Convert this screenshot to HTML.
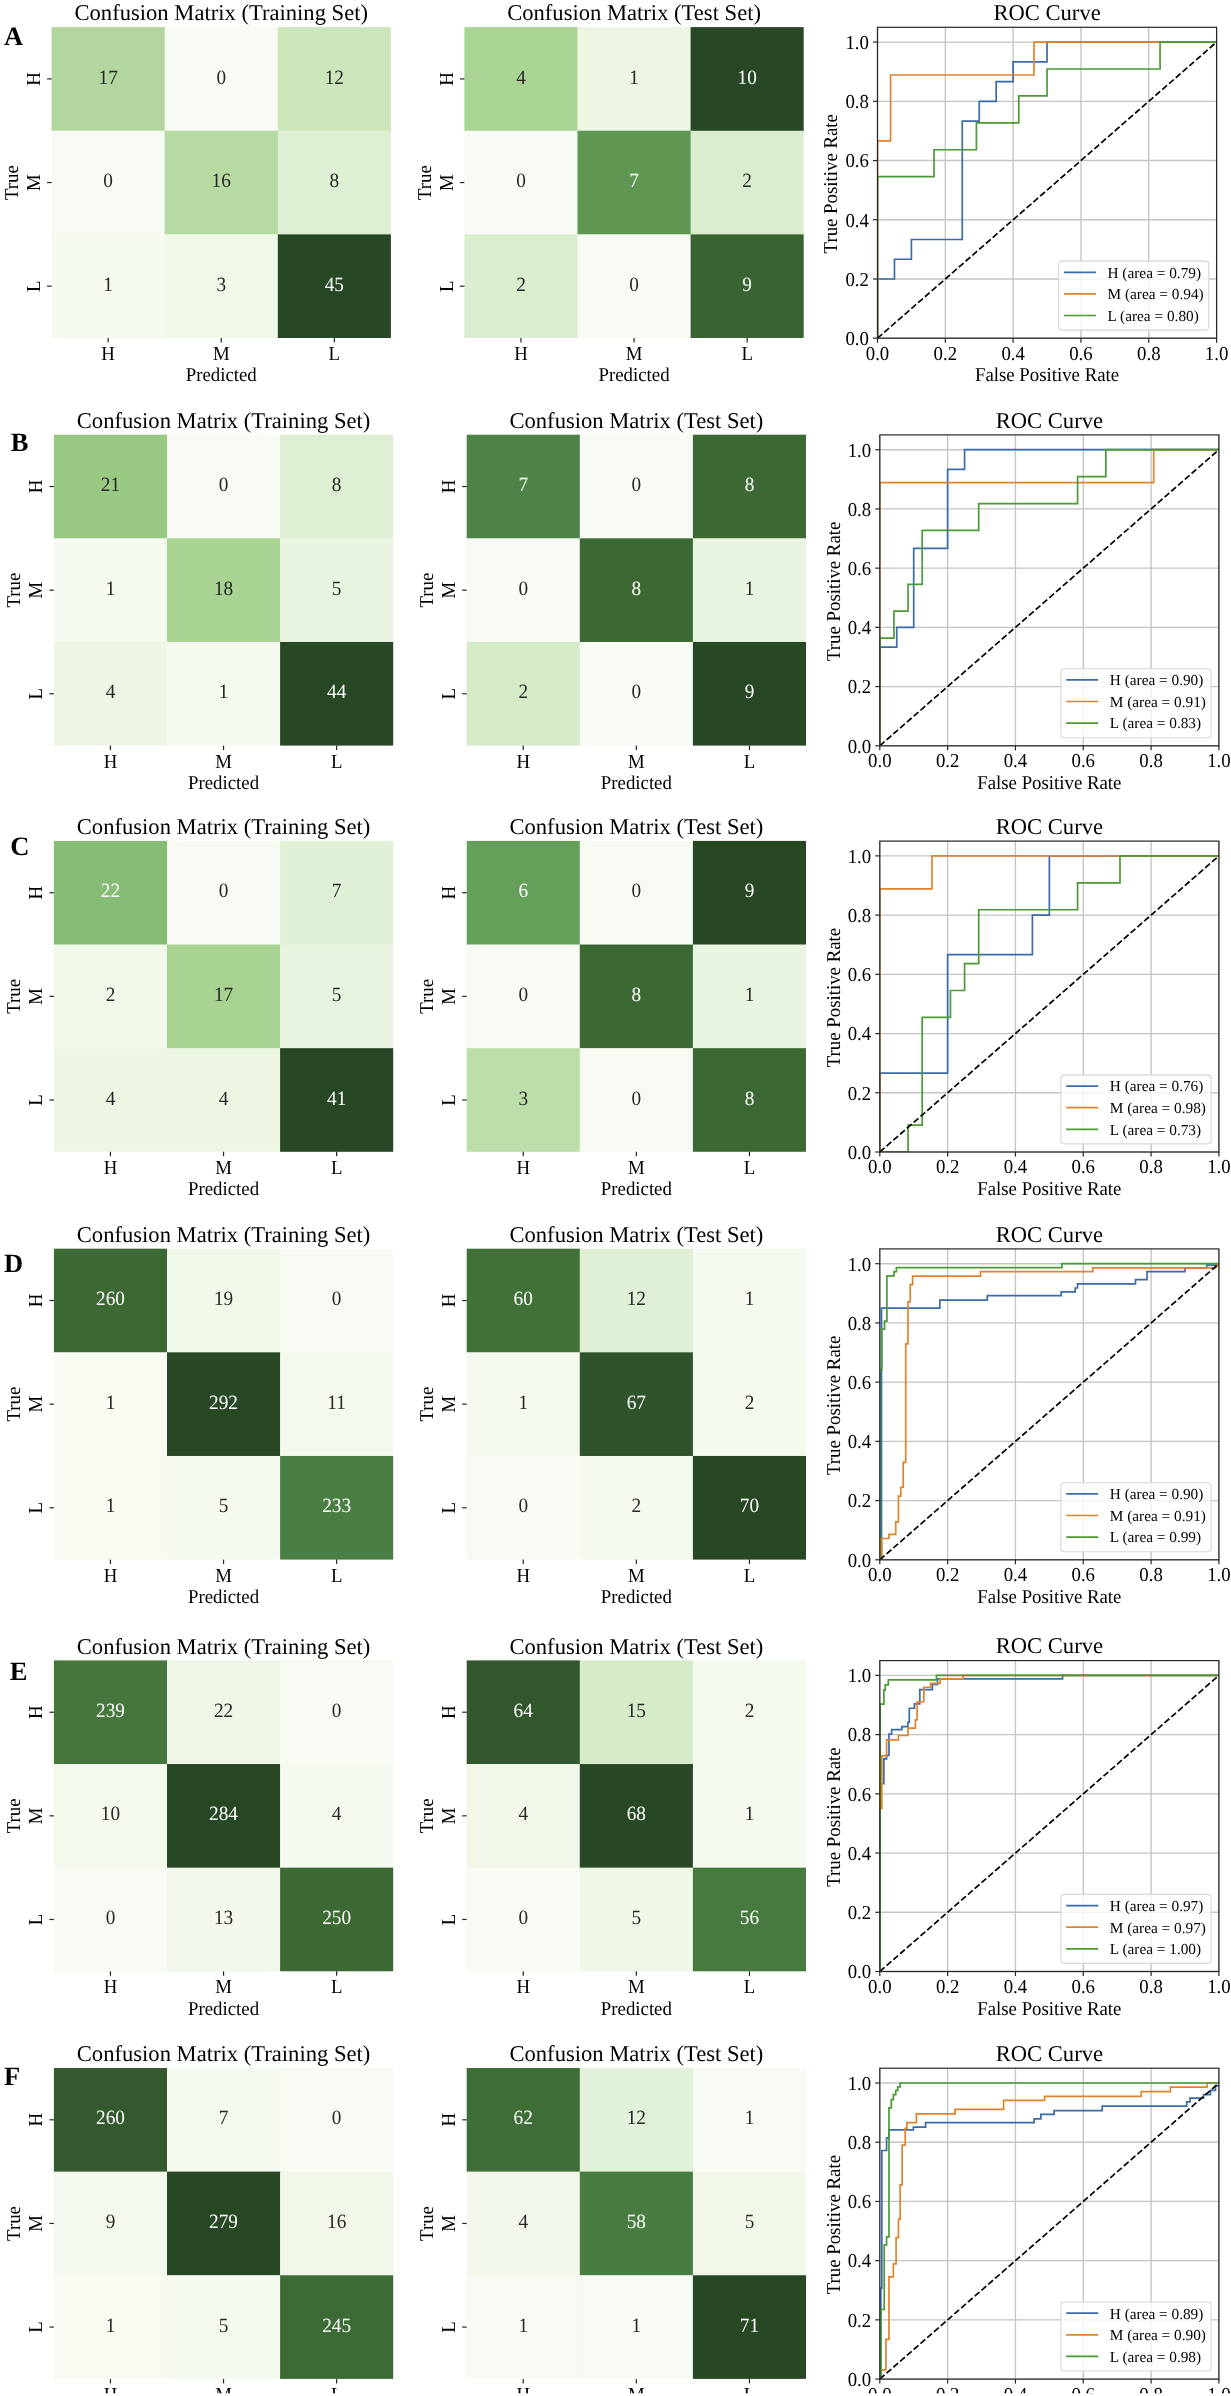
<!DOCTYPE html>
<html><head><meta charset="utf-8"><style>
html,body{margin:0;padding:0;background:#fff;}
body{width:1231px;height:2396px;overflow:hidden;}
svg{display:block;filter:blur(0.35px);}
text{font-family:"Liberation Serif", serif;text-rendering:geometricPrecision;}
</style></head><body>
<svg width="1231" height="2396" viewBox="0 0 1231 2396" font-family="'Liberation Serif', serif">
<rect width="1231" height="2396" fill="#fff"/>
<text transform="translate(4.00,45.00)" font-size="26.5" text-anchor="start" fill="#000" font-weight="bold">A</text>
<rect x="51.60" y="27.10" width="113.50" height="104.03" fill="#b2d69e"/>
<rect x="164.70" y="27.10" width="113.50" height="104.03" fill="#f7fbf3"/>
<rect x="277.80" y="27.10" width="113.10" height="104.03" fill="#cce6bb"/>
<rect x="51.60" y="130.73" width="113.50" height="104.03" fill="#f7fbf3"/>
<rect x="164.70" y="130.73" width="113.50" height="104.03" fill="#b7daa3"/>
<rect x="277.80" y="130.73" width="113.10" height="104.03" fill="#dfefd4"/>
<rect x="51.60" y="234.37" width="113.50" height="103.63" fill="#f5faef"/>
<rect x="164.70" y="234.37" width="113.50" height="103.63" fill="#f0f8e8"/>
<rect x="277.80" y="234.37" width="113.10" height="103.63" fill="#284725"/>
<text transform="translate(108.15,83.52) scale(0.950,1)" font-size="20.3" text-anchor="middle" fill="#262626">17</text>
<text transform="translate(221.25,83.52) scale(0.950,1)" font-size="20.3" text-anchor="middle" fill="#262626">0</text>
<text transform="translate(334.35,83.52) scale(0.950,1)" font-size="20.3" text-anchor="middle" fill="#262626">12</text>
<text transform="translate(108.15,187.15) scale(0.950,1)" font-size="20.3" text-anchor="middle" fill="#262626">0</text>
<text transform="translate(221.25,187.15) scale(0.950,1)" font-size="20.3" text-anchor="middle" fill="#262626">16</text>
<text transform="translate(334.35,187.15) scale(0.950,1)" font-size="20.3" text-anchor="middle" fill="#262626">8</text>
<text transform="translate(108.15,290.78) scale(0.950,1)" font-size="20.3" text-anchor="middle" fill="#262626">1</text>
<text transform="translate(221.25,290.78) scale(0.950,1)" font-size="20.3" text-anchor="middle" fill="#262626">3</text>
<text transform="translate(334.35,290.78) scale(0.950,1)" font-size="20.3" text-anchor="middle" fill="#ffffff">45</text>
<line x1="47.10" y1="78.92" x2="51.60" y2="78.92" stroke="#262626" stroke-width="1.2"/>
<text transform="translate(39.80,78.92) rotate(-90) scale(0.950,1)" font-size="19.8" text-anchor="middle" fill="#000">H</text>
<line x1="108.15" y1="338.00" x2="108.15" y2="342.50" stroke="#262626" stroke-width="1.2"/>
<text transform="translate(108.15,360.00) scale(0.950,1)" font-size="19.8" text-anchor="middle" fill="#000">H</text>
<line x1="47.10" y1="182.55" x2="51.60" y2="182.55" stroke="#262626" stroke-width="1.2"/>
<text transform="translate(39.80,182.55) rotate(-90) scale(0.950,1)" font-size="19.8" text-anchor="middle" fill="#000">M</text>
<line x1="221.25" y1="338.00" x2="221.25" y2="342.50" stroke="#262626" stroke-width="1.2"/>
<text transform="translate(221.25,360.00) scale(0.950,1)" font-size="19.8" text-anchor="middle" fill="#000">M</text>
<line x1="47.10" y1="286.18" x2="51.60" y2="286.18" stroke="#262626" stroke-width="1.2"/>
<text transform="translate(39.80,286.18) rotate(-90) scale(0.950,1)" font-size="19.8" text-anchor="middle" fill="#000">L</text>
<line x1="334.35" y1="338.00" x2="334.35" y2="342.50" stroke="#262626" stroke-width="1.2"/>
<text transform="translate(334.35,360.00) scale(0.950,1)" font-size="19.8" text-anchor="middle" fill="#000">L</text>
<text transform="translate(221.25,381.40) scale(0.960,1)" font-size="19.6" text-anchor="middle" fill="#000">Predicted</text>
<text transform="translate(18.10,182.55) rotate(-90) scale(0.960,1)" font-size="19.6" text-anchor="middle" fill="#000">True</text>
<text transform="translate(221.25,20.20)" font-size="22.6" text-anchor="middle" fill="#000">Confusion Matrix (Training Set)</text>
<rect x="464.40" y="27.10" width="113.50" height="104.03" fill="#aad494"/>
<rect x="577.50" y="27.10" width="113.50" height="104.03" fill="#ecf6e3"/>
<rect x="690.60" y="27.10" width="113.10" height="104.03" fill="#284725"/>
<rect x="464.40" y="130.73" width="113.50" height="104.03" fill="#f7fbf3"/>
<rect x="577.50" y="130.73" width="113.50" height="104.03" fill="#5e9652"/>
<rect x="690.60" y="130.73" width="113.10" height="104.03" fill="#daedce"/>
<rect x="464.40" y="234.37" width="113.50" height="103.63" fill="#daedce"/>
<rect x="577.50" y="234.37" width="113.50" height="103.63" fill="#f7fbf3"/>
<rect x="690.60" y="234.37" width="113.10" height="103.63" fill="#396432"/>
<text transform="translate(520.95,83.52) scale(0.950,1)" font-size="20.3" text-anchor="middle" fill="#262626">4</text>
<text transform="translate(634.05,83.52) scale(0.950,1)" font-size="20.3" text-anchor="middle" fill="#262626">1</text>
<text transform="translate(747.15,83.52) scale(0.950,1)" font-size="20.3" text-anchor="middle" fill="#ffffff">10</text>
<text transform="translate(520.95,187.15) scale(0.950,1)" font-size="20.3" text-anchor="middle" fill="#262626">0</text>
<text transform="translate(634.05,187.15) scale(0.950,1)" font-size="20.3" text-anchor="middle" fill="#ffffff">7</text>
<text transform="translate(747.15,187.15) scale(0.950,1)" font-size="20.3" text-anchor="middle" fill="#262626">2</text>
<text transform="translate(520.95,290.78) scale(0.950,1)" font-size="20.3" text-anchor="middle" fill="#262626">2</text>
<text transform="translate(634.05,290.78) scale(0.950,1)" font-size="20.3" text-anchor="middle" fill="#262626">0</text>
<text transform="translate(747.15,290.78) scale(0.950,1)" font-size="20.3" text-anchor="middle" fill="#ffffff">9</text>
<line x1="459.90" y1="78.92" x2="464.40" y2="78.92" stroke="#262626" stroke-width="1.2"/>
<text transform="translate(452.60,78.92) rotate(-90) scale(0.950,1)" font-size="19.8" text-anchor="middle" fill="#000">H</text>
<line x1="520.95" y1="338.00" x2="520.95" y2="342.50" stroke="#262626" stroke-width="1.2"/>
<text transform="translate(520.95,360.00) scale(0.950,1)" font-size="19.8" text-anchor="middle" fill="#000">H</text>
<line x1="459.90" y1="182.55" x2="464.40" y2="182.55" stroke="#262626" stroke-width="1.2"/>
<text transform="translate(452.60,182.55) rotate(-90) scale(0.950,1)" font-size="19.8" text-anchor="middle" fill="#000">M</text>
<line x1="634.05" y1="338.00" x2="634.05" y2="342.50" stroke="#262626" stroke-width="1.2"/>
<text transform="translate(634.05,360.00) scale(0.950,1)" font-size="19.8" text-anchor="middle" fill="#000">M</text>
<line x1="459.90" y1="286.18" x2="464.40" y2="286.18" stroke="#262626" stroke-width="1.2"/>
<text transform="translate(452.60,286.18) rotate(-90) scale(0.950,1)" font-size="19.8" text-anchor="middle" fill="#000">L</text>
<line x1="747.15" y1="338.00" x2="747.15" y2="342.50" stroke="#262626" stroke-width="1.2"/>
<text transform="translate(747.15,360.00) scale(0.950,1)" font-size="19.8" text-anchor="middle" fill="#000">L</text>
<text transform="translate(634.05,381.40) scale(0.960,1)" font-size="19.6" text-anchor="middle" fill="#000">Predicted</text>
<text transform="translate(430.90,182.55) rotate(-90) scale(0.960,1)" font-size="19.6" text-anchor="middle" fill="#000">True</text>
<text transform="translate(634.05,20.20)" font-size="22.6" text-anchor="middle" fill="#000">Confusion Matrix (Test Set)</text>
<path d="M877.50 27.29V338.20 M877.50 338.20H1216.60 M945.32 27.29V338.20 M877.50 278.98H1216.60 M1013.14 27.29V338.20 M877.50 219.76H1216.60 M1080.96 27.29V338.20 M877.50 160.54H1216.60 M1148.78 27.29V338.20 M877.50 101.32H1216.60 M1216.60 27.29V338.20 M877.50 42.10H1216.60" stroke="#c4c4c4" stroke-width="1.35" fill="none"/>
<clipPath id="clipA"><rect x="877.50" y="27.29" width="339.10" height="310.91"/></clipPath>
<g clip-path="url(#clipA)">
<path d="M877.50 338.20 L877.50 278.98 L894.46 278.98 L894.46 259.23 L911.41 259.23 L911.41 239.51 L962.27 239.51 L962.27 121.07 L979.23 121.07 L979.23 101.32 L996.18 101.32 L996.18 81.57 L1013.14 81.57 L1013.14 61.85 L1047.05 61.85 L1047.05 42.10 L1216.60 42.10" stroke="#3b6ba8" stroke-width="1.7" fill="none" stroke-linejoin="miter"/>
<path d="M877.50 338.20 L877.50 140.79 L890.56 140.79 L890.56 75.00 L1033.99 75.00 L1033.99 42.10 L1216.60 42.10" stroke="#e0832d" stroke-width="1.7" fill="none" stroke-linejoin="miter"/>
<path d="M877.50 338.20 L877.50 176.68 L934.03 176.68 L934.03 149.76 L976.42 149.76 L976.42 122.85 L1018.80 122.85 L1018.80 95.93 L1047.05 95.93 L1047.05 69.02 L1160.07 69.02 L1160.07 42.10 L1216.60 42.10" stroke="#4b9a36" stroke-width="1.7" fill="none" stroke-linejoin="miter"/>
<path d="M877.50 338.20L1216.60 42.10" stroke="#000" stroke-width="1.7" stroke-dasharray="6.28,2.72" fill="none"/>
</g>
<rect x="877.50" y="27.29" width="339.10" height="310.91" fill="none" stroke="#262626" stroke-width="1.2"/>
<line x1="877.50" y1="338.20" x2="877.50" y2="342.70" stroke="#262626" stroke-width="1.2"/>
<text transform="translate(877.50,359.60) scale(0.950,1)" font-size="19.8" text-anchor="middle" fill="#000">0.0</text>
<line x1="873.00" y1="338.20" x2="877.50" y2="338.20" stroke="#262626" stroke-width="1.2"/>
<text transform="translate(868.90,345.00) scale(0.950,1)" font-size="19.8" text-anchor="end" fill="#000">0.0</text>
<line x1="945.32" y1="338.20" x2="945.32" y2="342.70" stroke="#262626" stroke-width="1.2"/>
<text transform="translate(945.32,359.60) scale(0.950,1)" font-size="19.8" text-anchor="middle" fill="#000">0.2</text>
<line x1="873.00" y1="278.98" x2="877.50" y2="278.98" stroke="#262626" stroke-width="1.2"/>
<text transform="translate(868.90,285.78) scale(0.950,1)" font-size="19.8" text-anchor="end" fill="#000">0.2</text>
<line x1="1013.14" y1="338.20" x2="1013.14" y2="342.70" stroke="#262626" stroke-width="1.2"/>
<text transform="translate(1013.14,359.60) scale(0.950,1)" font-size="19.8" text-anchor="middle" fill="#000">0.4</text>
<line x1="873.00" y1="219.76" x2="877.50" y2="219.76" stroke="#262626" stroke-width="1.2"/>
<text transform="translate(868.90,226.56) scale(0.950,1)" font-size="19.8" text-anchor="end" fill="#000">0.4</text>
<line x1="1080.96" y1="338.20" x2="1080.96" y2="342.70" stroke="#262626" stroke-width="1.2"/>
<text transform="translate(1080.96,359.60) scale(0.950,1)" font-size="19.8" text-anchor="middle" fill="#000">0.6</text>
<line x1="873.00" y1="160.54" x2="877.50" y2="160.54" stroke="#262626" stroke-width="1.2"/>
<text transform="translate(868.90,167.34) scale(0.950,1)" font-size="19.8" text-anchor="end" fill="#000">0.6</text>
<line x1="1148.78" y1="338.20" x2="1148.78" y2="342.70" stroke="#262626" stroke-width="1.2"/>
<text transform="translate(1148.78,359.60) scale(0.950,1)" font-size="19.8" text-anchor="middle" fill="#000">0.8</text>
<line x1="873.00" y1="101.32" x2="877.50" y2="101.32" stroke="#262626" stroke-width="1.2"/>
<text transform="translate(868.90,108.12) scale(0.950,1)" font-size="19.8" text-anchor="end" fill="#000">0.8</text>
<line x1="1216.60" y1="338.20" x2="1216.60" y2="342.70" stroke="#262626" stroke-width="1.2"/>
<text transform="translate(1216.60,359.60) scale(0.950,1)" font-size="19.8" text-anchor="middle" fill="#000">1.0</text>
<line x1="873.00" y1="42.10" x2="877.50" y2="42.10" stroke="#262626" stroke-width="1.2"/>
<text transform="translate(868.90,48.90) scale(0.950,1)" font-size="19.8" text-anchor="end" fill="#000">1.0</text>
<text transform="translate(1047.05,20.00)" font-size="22.6" text-anchor="middle" fill="#000">ROC Curve</text>
<text transform="translate(1047.05,381.30) scale(0.960,1)" font-size="19.6" text-anchor="middle" fill="#000">False Positive Rate</text>
<text transform="translate(837.40,183.75) rotate(-90) scale(0.960,1)" font-size="19.6" text-anchor="middle" fill="#000">True Positive Rate</text>
<rect x="1058.60" y="261.10" width="150.20" height="69.00" rx="3.5" fill="#fff" fill-opacity="0.8" stroke="#d6d6d6" stroke-width="1.1"/>
<line x1="1063.90" y1="272.30" x2="1095.90" y2="272.30" stroke="#3b6ba8" stroke-width="1.7"/>
<text transform="translate(1107.50,277.60)" font-size="15.3" text-anchor="start" fill="#000">H (area = 0.79)</text>
<line x1="1063.90" y1="293.90" x2="1095.90" y2="293.90" stroke="#e0832d" stroke-width="1.7"/>
<text transform="translate(1107.50,299.20)" font-size="15.3" text-anchor="start" fill="#000">M (area = 0.94)</text>
<line x1="1063.90" y1="315.50" x2="1095.90" y2="315.50" stroke="#4b9a36" stroke-width="1.7"/>
<text transform="translate(1107.50,320.80)" font-size="15.3" text-anchor="start" fill="#000">L (area = 0.80)</text>
<text transform="translate(10.70,451.35)" font-size="26.5" text-anchor="start" fill="#000" font-weight="bold">B</text>
<rect x="53.90" y="434.70" width="113.50" height="104.03" fill="#98c882"/>
<rect x="167.00" y="434.70" width="113.50" height="104.03" fill="#f7fbf3"/>
<rect x="280.10" y="434.70" width="113.10" height="104.03" fill="#deefd3"/>
<rect x="53.90" y="538.33" width="113.50" height="104.03" fill="#f4faef"/>
<rect x="167.00" y="538.33" width="113.50" height="104.03" fill="#a8d392"/>
<rect x="280.10" y="538.33" width="113.10" height="104.03" fill="#eaf5e1"/>
<rect x="53.90" y="641.97" width="113.50" height="103.63" fill="#edf6e4"/>
<rect x="167.00" y="641.97" width="113.50" height="103.63" fill="#f4faef"/>
<rect x="280.10" y="641.97" width="113.10" height="103.63" fill="#284725"/>
<text transform="translate(110.45,491.12) scale(0.950,1)" font-size="20.3" text-anchor="middle" fill="#262626">21</text>
<text transform="translate(223.55,491.12) scale(0.950,1)" font-size="20.3" text-anchor="middle" fill="#262626">0</text>
<text transform="translate(336.65,491.12) scale(0.950,1)" font-size="20.3" text-anchor="middle" fill="#262626">8</text>
<text transform="translate(110.45,594.75) scale(0.950,1)" font-size="20.3" text-anchor="middle" fill="#262626">1</text>
<text transform="translate(223.55,594.75) scale(0.950,1)" font-size="20.3" text-anchor="middle" fill="#262626">18</text>
<text transform="translate(336.65,594.75) scale(0.950,1)" font-size="20.3" text-anchor="middle" fill="#262626">5</text>
<text transform="translate(110.45,698.38) scale(0.950,1)" font-size="20.3" text-anchor="middle" fill="#262626">4</text>
<text transform="translate(223.55,698.38) scale(0.950,1)" font-size="20.3" text-anchor="middle" fill="#262626">1</text>
<text transform="translate(336.65,698.38) scale(0.950,1)" font-size="20.3" text-anchor="middle" fill="#ffffff">44</text>
<line x1="49.40" y1="486.52" x2="53.90" y2="486.52" stroke="#262626" stroke-width="1.2"/>
<text transform="translate(42.10,486.52) rotate(-90) scale(0.950,1)" font-size="19.8" text-anchor="middle" fill="#000">H</text>
<line x1="110.45" y1="745.60" x2="110.45" y2="750.10" stroke="#262626" stroke-width="1.2"/>
<text transform="translate(110.45,767.60) scale(0.950,1)" font-size="19.8" text-anchor="middle" fill="#000">H</text>
<line x1="49.40" y1="590.15" x2="53.90" y2="590.15" stroke="#262626" stroke-width="1.2"/>
<text transform="translate(42.10,590.15) rotate(-90) scale(0.950,1)" font-size="19.8" text-anchor="middle" fill="#000">M</text>
<line x1="223.55" y1="745.60" x2="223.55" y2="750.10" stroke="#262626" stroke-width="1.2"/>
<text transform="translate(223.55,767.60) scale(0.950,1)" font-size="19.8" text-anchor="middle" fill="#000">M</text>
<line x1="49.40" y1="693.78" x2="53.90" y2="693.78" stroke="#262626" stroke-width="1.2"/>
<text transform="translate(42.10,693.78) rotate(-90) scale(0.950,1)" font-size="19.8" text-anchor="middle" fill="#000">L</text>
<line x1="336.65" y1="745.60" x2="336.65" y2="750.10" stroke="#262626" stroke-width="1.2"/>
<text transform="translate(336.65,767.60) scale(0.950,1)" font-size="19.8" text-anchor="middle" fill="#000">L</text>
<text transform="translate(223.55,789.00) scale(0.960,1)" font-size="19.6" text-anchor="middle" fill="#000">Predicted</text>
<text transform="translate(20.40,590.15) rotate(-90) scale(0.960,1)" font-size="19.6" text-anchor="middle" fill="#000">True</text>
<text transform="translate(223.55,427.80)" font-size="22.6" text-anchor="middle" fill="#000">Confusion Matrix (Training Set)</text>
<rect x="466.70" y="434.70" width="113.50" height="104.03" fill="#4d8346"/>
<rect x="579.80" y="434.70" width="113.50" height="104.03" fill="#f7fbf3"/>
<rect x="692.90" y="434.70" width="113.10" height="104.03" fill="#3b6833"/>
<rect x="466.70" y="538.33" width="113.50" height="104.03" fill="#f7fbf3"/>
<rect x="579.80" y="538.33" width="113.50" height="104.03" fill="#3b6833"/>
<rect x="692.90" y="538.33" width="113.10" height="104.03" fill="#eaf5e1"/>
<rect x="466.70" y="641.97" width="113.50" height="103.63" fill="#d5ebc8"/>
<rect x="579.80" y="641.97" width="113.50" height="103.63" fill="#f7fbf3"/>
<rect x="692.90" y="641.97" width="113.10" height="103.63" fill="#284725"/>
<text transform="translate(523.25,491.12) scale(0.950,1)" font-size="20.3" text-anchor="middle" fill="#ffffff">7</text>
<text transform="translate(636.35,491.12) scale(0.950,1)" font-size="20.3" text-anchor="middle" fill="#262626">0</text>
<text transform="translate(749.45,491.12) scale(0.950,1)" font-size="20.3" text-anchor="middle" fill="#ffffff">8</text>
<text transform="translate(523.25,594.75) scale(0.950,1)" font-size="20.3" text-anchor="middle" fill="#262626">0</text>
<text transform="translate(636.35,594.75) scale(0.950,1)" font-size="20.3" text-anchor="middle" fill="#ffffff">8</text>
<text transform="translate(749.45,594.75) scale(0.950,1)" font-size="20.3" text-anchor="middle" fill="#262626">1</text>
<text transform="translate(523.25,698.38) scale(0.950,1)" font-size="20.3" text-anchor="middle" fill="#262626">2</text>
<text transform="translate(636.35,698.38) scale(0.950,1)" font-size="20.3" text-anchor="middle" fill="#262626">0</text>
<text transform="translate(749.45,698.38) scale(0.950,1)" font-size="20.3" text-anchor="middle" fill="#ffffff">9</text>
<line x1="462.20" y1="486.52" x2="466.70" y2="486.52" stroke="#262626" stroke-width="1.2"/>
<text transform="translate(454.90,486.52) rotate(-90) scale(0.950,1)" font-size="19.8" text-anchor="middle" fill="#000">H</text>
<line x1="523.25" y1="745.60" x2="523.25" y2="750.10" stroke="#262626" stroke-width="1.2"/>
<text transform="translate(523.25,767.60) scale(0.950,1)" font-size="19.8" text-anchor="middle" fill="#000">H</text>
<line x1="462.20" y1="590.15" x2="466.70" y2="590.15" stroke="#262626" stroke-width="1.2"/>
<text transform="translate(454.90,590.15) rotate(-90) scale(0.950,1)" font-size="19.8" text-anchor="middle" fill="#000">M</text>
<line x1="636.35" y1="745.60" x2="636.35" y2="750.10" stroke="#262626" stroke-width="1.2"/>
<text transform="translate(636.35,767.60) scale(0.950,1)" font-size="19.8" text-anchor="middle" fill="#000">M</text>
<line x1="462.20" y1="693.78" x2="466.70" y2="693.78" stroke="#262626" stroke-width="1.2"/>
<text transform="translate(454.90,693.78) rotate(-90) scale(0.950,1)" font-size="19.8" text-anchor="middle" fill="#000">L</text>
<line x1="749.45" y1="745.60" x2="749.45" y2="750.10" stroke="#262626" stroke-width="1.2"/>
<text transform="translate(749.45,767.60) scale(0.950,1)" font-size="19.8" text-anchor="middle" fill="#000">L</text>
<text transform="translate(636.35,789.00) scale(0.960,1)" font-size="19.6" text-anchor="middle" fill="#000">Predicted</text>
<text transform="translate(433.20,590.15) rotate(-90) scale(0.960,1)" font-size="19.6" text-anchor="middle" fill="#000">True</text>
<text transform="translate(636.35,427.80)" font-size="22.6" text-anchor="middle" fill="#000">Confusion Matrix (Test Set)</text>
<path d="M879.80 434.89V745.80 M879.80 745.80H1218.90 M947.62 434.89V745.80 M879.80 686.58H1218.90 M1015.44 434.89V745.80 M879.80 627.36H1218.90 M1083.26 434.89V745.80 M879.80 568.14H1218.90 M1151.08 434.89V745.80 M879.80 508.92H1218.90 M1218.90 434.89V745.80 M879.80 449.70H1218.90" stroke="#c4c4c4" stroke-width="1.35" fill="none"/>
<clipPath id="clipB"><rect x="879.80" y="434.89" width="339.10" height="310.91"/></clipPath>
<g clip-path="url(#clipB)">
<path d="M879.80 745.80 L879.80 647.11 L896.75 647.11 L896.75 627.36 L913.71 627.36 L913.71 548.39 L947.62 548.39 L947.62 469.45 L964.57 469.45 L964.57 449.70 L1218.90 449.70" stroke="#3b6ba8" stroke-width="1.7" fill="none" stroke-linejoin="miter"/>
<path d="M879.80 745.80 L879.80 482.60 L1153.69 482.60 L1153.69 449.70 L1218.90 449.70" stroke="#e0832d" stroke-width="1.7" fill="none" stroke-linejoin="miter"/>
<path d="M879.80 745.80 L879.80 638.14 L893.94 638.14 L893.94 611.22 L908.05 611.22 L908.05 584.28 L922.19 584.28 L922.19 530.45 L978.72 530.45 L978.72 503.53 L1077.60 503.53 L1077.60 476.62 L1105.88 476.62 L1105.88 449.70 L1218.90 449.70" stroke="#4b9a36" stroke-width="1.7" fill="none" stroke-linejoin="miter"/>
<path d="M879.80 745.80L1218.90 449.70" stroke="#000" stroke-width="1.7" stroke-dasharray="6.28,2.72" fill="none"/>
</g>
<rect x="879.80" y="434.89" width="339.10" height="310.91" fill="none" stroke="#262626" stroke-width="1.2"/>
<line x1="879.80" y1="745.80" x2="879.80" y2="750.30" stroke="#262626" stroke-width="1.2"/>
<text transform="translate(879.80,767.20) scale(0.950,1)" font-size="19.8" text-anchor="middle" fill="#000">0.0</text>
<line x1="875.30" y1="745.80" x2="879.80" y2="745.80" stroke="#262626" stroke-width="1.2"/>
<text transform="translate(871.20,752.60) scale(0.950,1)" font-size="19.8" text-anchor="end" fill="#000">0.0</text>
<line x1="947.62" y1="745.80" x2="947.62" y2="750.30" stroke="#262626" stroke-width="1.2"/>
<text transform="translate(947.62,767.20) scale(0.950,1)" font-size="19.8" text-anchor="middle" fill="#000">0.2</text>
<line x1="875.30" y1="686.58" x2="879.80" y2="686.58" stroke="#262626" stroke-width="1.2"/>
<text transform="translate(871.20,693.38) scale(0.950,1)" font-size="19.8" text-anchor="end" fill="#000">0.2</text>
<line x1="1015.44" y1="745.80" x2="1015.44" y2="750.30" stroke="#262626" stroke-width="1.2"/>
<text transform="translate(1015.44,767.20) scale(0.950,1)" font-size="19.8" text-anchor="middle" fill="#000">0.4</text>
<line x1="875.30" y1="627.36" x2="879.80" y2="627.36" stroke="#262626" stroke-width="1.2"/>
<text transform="translate(871.20,634.16) scale(0.950,1)" font-size="19.8" text-anchor="end" fill="#000">0.4</text>
<line x1="1083.26" y1="745.80" x2="1083.26" y2="750.30" stroke="#262626" stroke-width="1.2"/>
<text transform="translate(1083.26,767.20) scale(0.950,1)" font-size="19.8" text-anchor="middle" fill="#000">0.6</text>
<line x1="875.30" y1="568.14" x2="879.80" y2="568.14" stroke="#262626" stroke-width="1.2"/>
<text transform="translate(871.20,574.94) scale(0.950,1)" font-size="19.8" text-anchor="end" fill="#000">0.6</text>
<line x1="1151.08" y1="745.80" x2="1151.08" y2="750.30" stroke="#262626" stroke-width="1.2"/>
<text transform="translate(1151.08,767.20) scale(0.950,1)" font-size="19.8" text-anchor="middle" fill="#000">0.8</text>
<line x1="875.30" y1="508.92" x2="879.80" y2="508.92" stroke="#262626" stroke-width="1.2"/>
<text transform="translate(871.20,515.72) scale(0.950,1)" font-size="19.8" text-anchor="end" fill="#000">0.8</text>
<line x1="1218.90" y1="745.80" x2="1218.90" y2="750.30" stroke="#262626" stroke-width="1.2"/>
<text transform="translate(1218.90,767.20) scale(0.950,1)" font-size="19.8" text-anchor="middle" fill="#000">1.0</text>
<line x1="875.30" y1="449.70" x2="879.80" y2="449.70" stroke="#262626" stroke-width="1.2"/>
<text transform="translate(871.20,456.50) scale(0.950,1)" font-size="19.8" text-anchor="end" fill="#000">1.0</text>
<text transform="translate(1049.35,427.60)" font-size="22.6" text-anchor="middle" fill="#000">ROC Curve</text>
<text transform="translate(1049.35,788.90) scale(0.960,1)" font-size="19.6" text-anchor="middle" fill="#000">False Positive Rate</text>
<text transform="translate(839.70,591.35) rotate(-90) scale(0.960,1)" font-size="19.6" text-anchor="middle" fill="#000">True Positive Rate</text>
<rect x="1060.90" y="668.70" width="150.20" height="69.00" rx="3.5" fill="#fff" fill-opacity="0.8" stroke="#d6d6d6" stroke-width="1.1"/>
<line x1="1066.20" y1="679.90" x2="1098.20" y2="679.90" stroke="#3b6ba8" stroke-width="1.7"/>
<text transform="translate(1109.80,685.20)" font-size="15.3" text-anchor="start" fill="#000">H (area = 0.90)</text>
<line x1="1066.20" y1="701.50" x2="1098.20" y2="701.50" stroke="#e0832d" stroke-width="1.7"/>
<text transform="translate(1109.80,706.80)" font-size="15.3" text-anchor="start" fill="#000">M (area = 0.91)</text>
<line x1="1066.20" y1="723.10" x2="1098.20" y2="723.10" stroke="#4b9a36" stroke-width="1.7"/>
<text transform="translate(1109.80,728.40)" font-size="15.3" text-anchor="start" fill="#000">L (area = 0.83)</text>
<text transform="translate(10.20,854.60)" font-size="26.5" text-anchor="start" fill="#000" font-weight="bold">C</text>
<rect x="53.90" y="840.90" width="113.50" height="104.03" fill="#86bc74"/>
<rect x="167.00" y="840.90" width="113.50" height="104.03" fill="#f7fbf3"/>
<rect x="280.10" y="840.90" width="113.10" height="104.03" fill="#e0f0d6"/>
<rect x="53.90" y="944.53" width="113.50" height="104.03" fill="#f2f9eb"/>
<rect x="167.00" y="944.53" width="113.50" height="104.03" fill="#a7d291"/>
<rect x="280.10" y="944.53" width="113.10" height="104.03" fill="#e8f4df"/>
<rect x="53.90" y="1048.17" width="113.50" height="103.63" fill="#ecf6e3"/>
<rect x="167.00" y="1048.17" width="113.50" height="103.63" fill="#ecf6e3"/>
<rect x="280.10" y="1048.17" width="113.10" height="103.63" fill="#284725"/>
<text transform="translate(110.45,897.32) scale(0.950,1)" font-size="20.3" text-anchor="middle" fill="#ffffff">22</text>
<text transform="translate(223.55,897.32) scale(0.950,1)" font-size="20.3" text-anchor="middle" fill="#262626">0</text>
<text transform="translate(336.65,897.32) scale(0.950,1)" font-size="20.3" text-anchor="middle" fill="#262626">7</text>
<text transform="translate(110.45,1000.95) scale(0.950,1)" font-size="20.3" text-anchor="middle" fill="#262626">2</text>
<text transform="translate(223.55,1000.95) scale(0.950,1)" font-size="20.3" text-anchor="middle" fill="#262626">17</text>
<text transform="translate(336.65,1000.95) scale(0.950,1)" font-size="20.3" text-anchor="middle" fill="#262626">5</text>
<text transform="translate(110.45,1104.58) scale(0.950,1)" font-size="20.3" text-anchor="middle" fill="#262626">4</text>
<text transform="translate(223.55,1104.58) scale(0.950,1)" font-size="20.3" text-anchor="middle" fill="#262626">4</text>
<text transform="translate(336.65,1104.58) scale(0.950,1)" font-size="20.3" text-anchor="middle" fill="#ffffff">41</text>
<line x1="49.40" y1="892.72" x2="53.90" y2="892.72" stroke="#262626" stroke-width="1.2"/>
<text transform="translate(42.10,892.72) rotate(-90) scale(0.950,1)" font-size="19.8" text-anchor="middle" fill="#000">H</text>
<line x1="110.45" y1="1151.80" x2="110.45" y2="1156.30" stroke="#262626" stroke-width="1.2"/>
<text transform="translate(110.45,1173.80) scale(0.950,1)" font-size="19.8" text-anchor="middle" fill="#000">H</text>
<line x1="49.40" y1="996.35" x2="53.90" y2="996.35" stroke="#262626" stroke-width="1.2"/>
<text transform="translate(42.10,996.35) rotate(-90) scale(0.950,1)" font-size="19.8" text-anchor="middle" fill="#000">M</text>
<line x1="223.55" y1="1151.80" x2="223.55" y2="1156.30" stroke="#262626" stroke-width="1.2"/>
<text transform="translate(223.55,1173.80) scale(0.950,1)" font-size="19.8" text-anchor="middle" fill="#000">M</text>
<line x1="49.40" y1="1099.98" x2="53.90" y2="1099.98" stroke="#262626" stroke-width="1.2"/>
<text transform="translate(42.10,1099.98) rotate(-90) scale(0.950,1)" font-size="19.8" text-anchor="middle" fill="#000">L</text>
<line x1="336.65" y1="1151.80" x2="336.65" y2="1156.30" stroke="#262626" stroke-width="1.2"/>
<text transform="translate(336.65,1173.80) scale(0.950,1)" font-size="19.8" text-anchor="middle" fill="#000">L</text>
<text transform="translate(223.55,1195.20) scale(0.960,1)" font-size="19.6" text-anchor="middle" fill="#000">Predicted</text>
<text transform="translate(20.40,996.35) rotate(-90) scale(0.960,1)" font-size="19.6" text-anchor="middle" fill="#000">True</text>
<text transform="translate(223.55,834.00)" font-size="22.6" text-anchor="middle" fill="#000">Confusion Matrix (Training Set)</text>
<rect x="466.70" y="840.90" width="113.50" height="104.03" fill="#65a05b"/>
<rect x="579.80" y="840.90" width="113.50" height="104.03" fill="#f7fbf3"/>
<rect x="692.90" y="840.90" width="113.10" height="104.03" fill="#284725"/>
<rect x="466.70" y="944.53" width="113.50" height="104.03" fill="#f7fbf3"/>
<rect x="579.80" y="944.53" width="113.50" height="104.03" fill="#3b6833"/>
<rect x="692.90" y="944.53" width="113.10" height="104.03" fill="#eaf5e1"/>
<rect x="466.70" y="1048.17" width="113.50" height="103.63" fill="#bcdea8"/>
<rect x="579.80" y="1048.17" width="113.50" height="103.63" fill="#f7fbf3"/>
<rect x="692.90" y="1048.17" width="113.10" height="103.63" fill="#3b6833"/>
<text transform="translate(523.25,897.32) scale(0.950,1)" font-size="20.3" text-anchor="middle" fill="#ffffff">6</text>
<text transform="translate(636.35,897.32) scale(0.950,1)" font-size="20.3" text-anchor="middle" fill="#262626">0</text>
<text transform="translate(749.45,897.32) scale(0.950,1)" font-size="20.3" text-anchor="middle" fill="#ffffff">9</text>
<text transform="translate(523.25,1000.95) scale(0.950,1)" font-size="20.3" text-anchor="middle" fill="#262626">0</text>
<text transform="translate(636.35,1000.95) scale(0.950,1)" font-size="20.3" text-anchor="middle" fill="#ffffff">8</text>
<text transform="translate(749.45,1000.95) scale(0.950,1)" font-size="20.3" text-anchor="middle" fill="#262626">1</text>
<text transform="translate(523.25,1104.58) scale(0.950,1)" font-size="20.3" text-anchor="middle" fill="#262626">3</text>
<text transform="translate(636.35,1104.58) scale(0.950,1)" font-size="20.3" text-anchor="middle" fill="#262626">0</text>
<text transform="translate(749.45,1104.58) scale(0.950,1)" font-size="20.3" text-anchor="middle" fill="#ffffff">8</text>
<line x1="462.20" y1="892.72" x2="466.70" y2="892.72" stroke="#262626" stroke-width="1.2"/>
<text transform="translate(454.90,892.72) rotate(-90) scale(0.950,1)" font-size="19.8" text-anchor="middle" fill="#000">H</text>
<line x1="523.25" y1="1151.80" x2="523.25" y2="1156.30" stroke="#262626" stroke-width="1.2"/>
<text transform="translate(523.25,1173.80) scale(0.950,1)" font-size="19.8" text-anchor="middle" fill="#000">H</text>
<line x1="462.20" y1="996.35" x2="466.70" y2="996.35" stroke="#262626" stroke-width="1.2"/>
<text transform="translate(454.90,996.35) rotate(-90) scale(0.950,1)" font-size="19.8" text-anchor="middle" fill="#000">M</text>
<line x1="636.35" y1="1151.80" x2="636.35" y2="1156.30" stroke="#262626" stroke-width="1.2"/>
<text transform="translate(636.35,1173.80) scale(0.950,1)" font-size="19.8" text-anchor="middle" fill="#000">M</text>
<line x1="462.20" y1="1099.98" x2="466.70" y2="1099.98" stroke="#262626" stroke-width="1.2"/>
<text transform="translate(454.90,1099.98) rotate(-90) scale(0.950,1)" font-size="19.8" text-anchor="middle" fill="#000">L</text>
<line x1="749.45" y1="1151.80" x2="749.45" y2="1156.30" stroke="#262626" stroke-width="1.2"/>
<text transform="translate(749.45,1173.80) scale(0.950,1)" font-size="19.8" text-anchor="middle" fill="#000">L</text>
<text transform="translate(636.35,1195.20) scale(0.960,1)" font-size="19.6" text-anchor="middle" fill="#000">Predicted</text>
<text transform="translate(433.20,996.35) rotate(-90) scale(0.960,1)" font-size="19.6" text-anchor="middle" fill="#000">True</text>
<text transform="translate(636.35,834.00)" font-size="22.6" text-anchor="middle" fill="#000">Confusion Matrix (Test Set)</text>
<path d="M879.80 841.10V1152.00 M879.80 1152.00H1218.90 M947.62 841.10V1152.00 M879.80 1092.78H1218.90 M1015.44 841.10V1152.00 M879.80 1033.56H1218.90 M1083.26 841.10V1152.00 M879.80 974.34H1218.90 M1151.08 841.10V1152.00 M879.80 915.12H1218.90 M1218.90 841.10V1152.00 M879.80 855.90H1218.90" stroke="#c4c4c4" stroke-width="1.35" fill="none"/>
<clipPath id="clipC"><rect x="879.80" y="841.10" width="339.10" height="310.90"/></clipPath>
<g clip-path="url(#clipC)">
<path d="M879.80 1152.00 L879.80 1073.03 L947.62 1073.03 L947.62 954.59 L1032.39 954.59 L1032.39 915.12 L1049.35 915.12 L1049.35 855.90 L1218.90 855.90" stroke="#3b6ba8" stroke-width="1.7" fill="none" stroke-linejoin="miter"/>
<path d="M879.80 1152.00 L879.80 888.80 L931.95 888.80 L931.95 855.90 L1218.90 855.90" stroke="#e0832d" stroke-width="1.7" fill="none" stroke-linejoin="miter"/>
<path d="M879.80 1152.00 L908.05 1152.00 L908.05 1125.08 L922.19 1125.08 L922.19 1017.42 L950.43 1017.42 L950.43 990.48 L964.57 990.48 L964.57 963.56 L978.72 963.56 L978.72 909.73 L1077.60 909.73 L1077.60 882.82 L1119.98 882.82 L1119.98 855.90 L1218.90 855.90" stroke="#4b9a36" stroke-width="1.7" fill="none" stroke-linejoin="miter"/>
<path d="M879.80 1152.00L1218.90 855.90" stroke="#000" stroke-width="1.7" stroke-dasharray="6.28,2.72" fill="none"/>
</g>
<rect x="879.80" y="841.10" width="339.10" height="310.90" fill="none" stroke="#262626" stroke-width="1.2"/>
<line x1="879.80" y1="1152.00" x2="879.80" y2="1156.50" stroke="#262626" stroke-width="1.2"/>
<text transform="translate(879.80,1173.40) scale(0.950,1)" font-size="19.8" text-anchor="middle" fill="#000">0.0</text>
<line x1="875.30" y1="1152.00" x2="879.80" y2="1152.00" stroke="#262626" stroke-width="1.2"/>
<text transform="translate(871.20,1158.80) scale(0.950,1)" font-size="19.8" text-anchor="end" fill="#000">0.0</text>
<line x1="947.62" y1="1152.00" x2="947.62" y2="1156.50" stroke="#262626" stroke-width="1.2"/>
<text transform="translate(947.62,1173.40) scale(0.950,1)" font-size="19.8" text-anchor="middle" fill="#000">0.2</text>
<line x1="875.30" y1="1092.78" x2="879.80" y2="1092.78" stroke="#262626" stroke-width="1.2"/>
<text transform="translate(871.20,1099.58) scale(0.950,1)" font-size="19.8" text-anchor="end" fill="#000">0.2</text>
<line x1="1015.44" y1="1152.00" x2="1015.44" y2="1156.50" stroke="#262626" stroke-width="1.2"/>
<text transform="translate(1015.44,1173.40) scale(0.950,1)" font-size="19.8" text-anchor="middle" fill="#000">0.4</text>
<line x1="875.30" y1="1033.56" x2="879.80" y2="1033.56" stroke="#262626" stroke-width="1.2"/>
<text transform="translate(871.20,1040.36) scale(0.950,1)" font-size="19.8" text-anchor="end" fill="#000">0.4</text>
<line x1="1083.26" y1="1152.00" x2="1083.26" y2="1156.50" stroke="#262626" stroke-width="1.2"/>
<text transform="translate(1083.26,1173.40) scale(0.950,1)" font-size="19.8" text-anchor="middle" fill="#000">0.6</text>
<line x1="875.30" y1="974.34" x2="879.80" y2="974.34" stroke="#262626" stroke-width="1.2"/>
<text transform="translate(871.20,981.14) scale(0.950,1)" font-size="19.8" text-anchor="end" fill="#000">0.6</text>
<line x1="1151.08" y1="1152.00" x2="1151.08" y2="1156.50" stroke="#262626" stroke-width="1.2"/>
<text transform="translate(1151.08,1173.40) scale(0.950,1)" font-size="19.8" text-anchor="middle" fill="#000">0.8</text>
<line x1="875.30" y1="915.12" x2="879.80" y2="915.12" stroke="#262626" stroke-width="1.2"/>
<text transform="translate(871.20,921.92) scale(0.950,1)" font-size="19.8" text-anchor="end" fill="#000">0.8</text>
<line x1="1218.90" y1="1152.00" x2="1218.90" y2="1156.50" stroke="#262626" stroke-width="1.2"/>
<text transform="translate(1218.90,1173.40) scale(0.950,1)" font-size="19.8" text-anchor="middle" fill="#000">1.0</text>
<line x1="875.30" y1="855.90" x2="879.80" y2="855.90" stroke="#262626" stroke-width="1.2"/>
<text transform="translate(871.20,862.70) scale(0.950,1)" font-size="19.8" text-anchor="end" fill="#000">1.0</text>
<text transform="translate(1049.35,833.80)" font-size="22.6" text-anchor="middle" fill="#000">ROC Curve</text>
<text transform="translate(1049.35,1195.10) scale(0.960,1)" font-size="19.6" text-anchor="middle" fill="#000">False Positive Rate</text>
<text transform="translate(839.70,997.55) rotate(-90) scale(0.960,1)" font-size="19.6" text-anchor="middle" fill="#000">True Positive Rate</text>
<rect x="1060.90" y="1074.90" width="150.20" height="69.00" rx="3.5" fill="#fff" fill-opacity="0.8" stroke="#d6d6d6" stroke-width="1.1"/>
<line x1="1066.20" y1="1086.10" x2="1098.20" y2="1086.10" stroke="#3b6ba8" stroke-width="1.7"/>
<text transform="translate(1109.80,1091.40)" font-size="15.3" text-anchor="start" fill="#000">H (area = 0.76)</text>
<line x1="1066.20" y1="1107.70" x2="1098.20" y2="1107.70" stroke="#e0832d" stroke-width="1.7"/>
<text transform="translate(1109.80,1113.00)" font-size="15.3" text-anchor="start" fill="#000">M (area = 0.98)</text>
<line x1="1066.20" y1="1129.30" x2="1098.20" y2="1129.30" stroke="#4b9a36" stroke-width="1.7"/>
<text transform="translate(1109.80,1134.60)" font-size="15.3" text-anchor="start" fill="#000">L (area = 0.73)</text>
<text transform="translate(3.90,1272.30)" font-size="26.5" text-anchor="start" fill="#000" font-weight="bold">D</text>
<rect x="53.90" y="1248.70" width="113.50" height="104.03" fill="#3b6833"/>
<rect x="167.00" y="1248.70" width="113.50" height="104.03" fill="#f0f8e9"/>
<rect x="280.10" y="1248.70" width="113.10" height="104.03" fill="#f7fbf3"/>
<rect x="53.90" y="1352.33" width="113.50" height="104.03" fill="#f7fbf2"/>
<rect x="167.00" y="1352.33" width="113.50" height="104.03" fill="#284725"/>
<rect x="280.10" y="1352.33" width="113.10" height="104.03" fill="#f3f9ed"/>
<rect x="53.90" y="1455.97" width="113.50" height="103.63" fill="#f7fbf2"/>
<rect x="167.00" y="1455.97" width="113.50" height="103.63" fill="#f5faf0"/>
<rect x="280.10" y="1455.97" width="113.10" height="103.63" fill="#4a7f43"/>
<text transform="translate(110.45,1305.12) scale(0.950,1)" font-size="20.3" text-anchor="middle" fill="#ffffff">260</text>
<text transform="translate(223.55,1305.12) scale(0.950,1)" font-size="20.3" text-anchor="middle" fill="#262626">19</text>
<text transform="translate(336.65,1305.12) scale(0.950,1)" font-size="20.3" text-anchor="middle" fill="#262626">0</text>
<text transform="translate(110.45,1408.75) scale(0.950,1)" font-size="20.3" text-anchor="middle" fill="#262626">1</text>
<text transform="translate(223.55,1408.75) scale(0.950,1)" font-size="20.3" text-anchor="middle" fill="#ffffff">292</text>
<text transform="translate(336.65,1408.75) scale(0.950,1)" font-size="20.3" text-anchor="middle" fill="#262626">11</text>
<text transform="translate(110.45,1512.38) scale(0.950,1)" font-size="20.3" text-anchor="middle" fill="#262626">1</text>
<text transform="translate(223.55,1512.38) scale(0.950,1)" font-size="20.3" text-anchor="middle" fill="#262626">5</text>
<text transform="translate(336.65,1512.38) scale(0.950,1)" font-size="20.3" text-anchor="middle" fill="#ffffff">233</text>
<line x1="49.40" y1="1300.52" x2="53.90" y2="1300.52" stroke="#262626" stroke-width="1.2"/>
<text transform="translate(42.10,1300.52) rotate(-90) scale(0.950,1)" font-size="19.8" text-anchor="middle" fill="#000">H</text>
<line x1="110.45" y1="1559.60" x2="110.45" y2="1564.10" stroke="#262626" stroke-width="1.2"/>
<text transform="translate(110.45,1581.60) scale(0.950,1)" font-size="19.8" text-anchor="middle" fill="#000">H</text>
<line x1="49.40" y1="1404.15" x2="53.90" y2="1404.15" stroke="#262626" stroke-width="1.2"/>
<text transform="translate(42.10,1404.15) rotate(-90) scale(0.950,1)" font-size="19.8" text-anchor="middle" fill="#000">M</text>
<line x1="223.55" y1="1559.60" x2="223.55" y2="1564.10" stroke="#262626" stroke-width="1.2"/>
<text transform="translate(223.55,1581.60) scale(0.950,1)" font-size="19.8" text-anchor="middle" fill="#000">M</text>
<line x1="49.40" y1="1507.78" x2="53.90" y2="1507.78" stroke="#262626" stroke-width="1.2"/>
<text transform="translate(42.10,1507.78) rotate(-90) scale(0.950,1)" font-size="19.8" text-anchor="middle" fill="#000">L</text>
<line x1="336.65" y1="1559.60" x2="336.65" y2="1564.10" stroke="#262626" stroke-width="1.2"/>
<text transform="translate(336.65,1581.60) scale(0.950,1)" font-size="19.8" text-anchor="middle" fill="#000">L</text>
<text transform="translate(223.55,1603.00) scale(0.960,1)" font-size="19.6" text-anchor="middle" fill="#000">Predicted</text>
<text transform="translate(20.40,1404.15) rotate(-90) scale(0.960,1)" font-size="19.6" text-anchor="middle" fill="#000">True</text>
<text transform="translate(223.55,1241.80)" font-size="22.6" text-anchor="middle" fill="#000">Confusion Matrix (Training Set)</text>
<rect x="466.70" y="1248.70" width="113.50" height="104.03" fill="#427138"/>
<rect x="579.80" y="1248.70" width="113.50" height="104.03" fill="#e0f0d6"/>
<rect x="692.90" y="1248.70" width="113.10" height="104.03" fill="#f5faf1"/>
<rect x="466.70" y="1352.33" width="113.50" height="104.03" fill="#f5faf1"/>
<rect x="579.80" y="1352.33" width="113.50" height="104.03" fill="#2f532b"/>
<rect x="692.90" y="1352.33" width="113.10" height="104.03" fill="#f4faee"/>
<rect x="466.70" y="1455.97" width="113.50" height="103.63" fill="#f7fbf3"/>
<rect x="579.80" y="1455.97" width="113.50" height="103.63" fill="#f4faee"/>
<rect x="692.90" y="1455.97" width="113.10" height="103.63" fill="#284725"/>
<text transform="translate(523.25,1305.12) scale(0.950,1)" font-size="20.3" text-anchor="middle" fill="#ffffff">60</text>
<text transform="translate(636.35,1305.12) scale(0.950,1)" font-size="20.3" text-anchor="middle" fill="#262626">12</text>
<text transform="translate(749.45,1305.12) scale(0.950,1)" font-size="20.3" text-anchor="middle" fill="#262626">1</text>
<text transform="translate(523.25,1408.75) scale(0.950,1)" font-size="20.3" text-anchor="middle" fill="#262626">1</text>
<text transform="translate(636.35,1408.75) scale(0.950,1)" font-size="20.3" text-anchor="middle" fill="#ffffff">67</text>
<text transform="translate(749.45,1408.75) scale(0.950,1)" font-size="20.3" text-anchor="middle" fill="#262626">2</text>
<text transform="translate(523.25,1512.38) scale(0.950,1)" font-size="20.3" text-anchor="middle" fill="#262626">0</text>
<text transform="translate(636.35,1512.38) scale(0.950,1)" font-size="20.3" text-anchor="middle" fill="#262626">2</text>
<text transform="translate(749.45,1512.38) scale(0.950,1)" font-size="20.3" text-anchor="middle" fill="#ffffff">70</text>
<line x1="462.20" y1="1300.52" x2="466.70" y2="1300.52" stroke="#262626" stroke-width="1.2"/>
<text transform="translate(454.90,1300.52) rotate(-90) scale(0.950,1)" font-size="19.8" text-anchor="middle" fill="#000">H</text>
<line x1="523.25" y1="1559.60" x2="523.25" y2="1564.10" stroke="#262626" stroke-width="1.2"/>
<text transform="translate(523.25,1581.60) scale(0.950,1)" font-size="19.8" text-anchor="middle" fill="#000">H</text>
<line x1="462.20" y1="1404.15" x2="466.70" y2="1404.15" stroke="#262626" stroke-width="1.2"/>
<text transform="translate(454.90,1404.15) rotate(-90) scale(0.950,1)" font-size="19.8" text-anchor="middle" fill="#000">M</text>
<line x1="636.35" y1="1559.60" x2="636.35" y2="1564.10" stroke="#262626" stroke-width="1.2"/>
<text transform="translate(636.35,1581.60) scale(0.950,1)" font-size="19.8" text-anchor="middle" fill="#000">M</text>
<line x1="462.20" y1="1507.78" x2="466.70" y2="1507.78" stroke="#262626" stroke-width="1.2"/>
<text transform="translate(454.90,1507.78) rotate(-90) scale(0.950,1)" font-size="19.8" text-anchor="middle" fill="#000">L</text>
<line x1="749.45" y1="1559.60" x2="749.45" y2="1564.10" stroke="#262626" stroke-width="1.2"/>
<text transform="translate(749.45,1581.60) scale(0.950,1)" font-size="19.8" text-anchor="middle" fill="#000">L</text>
<text transform="translate(636.35,1603.00) scale(0.960,1)" font-size="19.6" text-anchor="middle" fill="#000">Predicted</text>
<text transform="translate(433.20,1404.15) rotate(-90) scale(0.960,1)" font-size="19.6" text-anchor="middle" fill="#000">True</text>
<text transform="translate(636.35,1241.80)" font-size="22.6" text-anchor="middle" fill="#000">Confusion Matrix (Test Set)</text>
<path d="M879.80 1248.89V1559.80 M879.80 1559.80H1218.90 M947.62 1248.89V1559.80 M879.80 1500.58H1218.90 M1015.44 1248.89V1559.80 M879.80 1441.36H1218.90 M1083.26 1248.89V1559.80 M879.80 1382.14H1218.90 M1151.08 1248.89V1559.80 M879.80 1322.92H1218.90 M1218.90 1248.89V1559.80 M879.80 1263.70H1218.90" stroke="#c4c4c4" stroke-width="1.35" fill="none"/>
<clipPath id="clipD"><rect x="879.80" y="1248.89" width="339.10" height="310.90"/></clipPath>
<g clip-path="url(#clipD)">
<path d="M879.80 1559.80 L881.50 1559.80 L881.50 1308.12 L939.82 1308.12 L939.82 1300.12 L987.29 1300.12 L987.29 1295.68 L1061.22 1295.68 L1061.22 1291.83 L1075.12 1291.83 L1075.12 1287.98 L1077.50 1287.98 L1077.50 1283.83 L1135.48 1283.83 L1135.48 1279.69 L1147.01 1279.69 L1147.01 1271.69 L1184.99 1271.69 L1184.99 1267.85 L1206.69 1267.85 L1206.69 1265.18 L1218.90 1265.18 L1218.90 1263.70" stroke="#3b6ba8" stroke-width="1.7" fill="none" stroke-linejoin="miter"/>
<path d="M879.80 1559.80 L881.73 1559.80 L881.73 1538.48 L888.96 1538.48 L888.96 1534.34 L895.74 1534.34 L895.74 1521.90 L898.45 1521.90 L898.45 1496.14 L900.82 1496.14 L900.82 1487.26 L903.20 1487.26 L903.20 1462.38 L905.74 1462.38 L905.74 1343.94 L907.95 1343.94 L907.95 1301.90 L910.22 1301.90 L910.22 1284.72 L912.59 1284.72 L912.59 1276.14 L980.51 1276.14 L980.51 1271.69 L1092.75 1271.69 L1092.75 1267.85 L1215.51 1267.85 L1218.90 1263.70" stroke="#e0832d" stroke-width="1.7" fill="none" stroke-linejoin="miter"/>
<path d="M879.80 1559.80 L879.97 1559.80 L879.97 1369.70 L881.80 1369.70 L881.80 1329.14 L884.55 1329.14 L884.55 1321.14 L886.92 1321.14 L886.92 1275.84 L894.04 1275.84 L894.04 1271.69 L896.42 1271.69 L896.42 1267.55 L1061.90 1267.55 L1061.90 1263.70 L1218.90 1263.70" stroke="#4b9a36" stroke-width="1.7" fill="none" stroke-linejoin="miter"/>
<path d="M879.80 1559.80L1218.90 1263.70" stroke="#000" stroke-width="1.7" stroke-dasharray="6.28,2.72" fill="none"/>
</g>
<rect x="879.80" y="1248.89" width="339.10" height="310.90" fill="none" stroke="#262626" stroke-width="1.2"/>
<line x1="879.80" y1="1559.80" x2="879.80" y2="1564.30" stroke="#262626" stroke-width="1.2"/>
<text transform="translate(879.80,1581.20) scale(0.950,1)" font-size="19.8" text-anchor="middle" fill="#000">0.0</text>
<line x1="875.30" y1="1559.80" x2="879.80" y2="1559.80" stroke="#262626" stroke-width="1.2"/>
<text transform="translate(871.20,1566.60) scale(0.950,1)" font-size="19.8" text-anchor="end" fill="#000">0.0</text>
<line x1="947.62" y1="1559.80" x2="947.62" y2="1564.30" stroke="#262626" stroke-width="1.2"/>
<text transform="translate(947.62,1581.20) scale(0.950,1)" font-size="19.8" text-anchor="middle" fill="#000">0.2</text>
<line x1="875.30" y1="1500.58" x2="879.80" y2="1500.58" stroke="#262626" stroke-width="1.2"/>
<text transform="translate(871.20,1507.38) scale(0.950,1)" font-size="19.8" text-anchor="end" fill="#000">0.2</text>
<line x1="1015.44" y1="1559.80" x2="1015.44" y2="1564.30" stroke="#262626" stroke-width="1.2"/>
<text transform="translate(1015.44,1581.20) scale(0.950,1)" font-size="19.8" text-anchor="middle" fill="#000">0.4</text>
<line x1="875.30" y1="1441.36" x2="879.80" y2="1441.36" stroke="#262626" stroke-width="1.2"/>
<text transform="translate(871.20,1448.16) scale(0.950,1)" font-size="19.8" text-anchor="end" fill="#000">0.4</text>
<line x1="1083.26" y1="1559.80" x2="1083.26" y2="1564.30" stroke="#262626" stroke-width="1.2"/>
<text transform="translate(1083.26,1581.20) scale(0.950,1)" font-size="19.8" text-anchor="middle" fill="#000">0.6</text>
<line x1="875.30" y1="1382.14" x2="879.80" y2="1382.14" stroke="#262626" stroke-width="1.2"/>
<text transform="translate(871.20,1388.94) scale(0.950,1)" font-size="19.8" text-anchor="end" fill="#000">0.6</text>
<line x1="1151.08" y1="1559.80" x2="1151.08" y2="1564.30" stroke="#262626" stroke-width="1.2"/>
<text transform="translate(1151.08,1581.20) scale(0.950,1)" font-size="19.8" text-anchor="middle" fill="#000">0.8</text>
<line x1="875.30" y1="1322.92" x2="879.80" y2="1322.92" stroke="#262626" stroke-width="1.2"/>
<text transform="translate(871.20,1329.72) scale(0.950,1)" font-size="19.8" text-anchor="end" fill="#000">0.8</text>
<line x1="1218.90" y1="1559.80" x2="1218.90" y2="1564.30" stroke="#262626" stroke-width="1.2"/>
<text transform="translate(1218.90,1581.20) scale(0.950,1)" font-size="19.8" text-anchor="middle" fill="#000">1.0</text>
<line x1="875.30" y1="1263.70" x2="879.80" y2="1263.70" stroke="#262626" stroke-width="1.2"/>
<text transform="translate(871.20,1270.50) scale(0.950,1)" font-size="19.8" text-anchor="end" fill="#000">1.0</text>
<text transform="translate(1049.35,1241.60)" font-size="22.6" text-anchor="middle" fill="#000">ROC Curve</text>
<text transform="translate(1049.35,1602.90) scale(0.960,1)" font-size="19.6" text-anchor="middle" fill="#000">False Positive Rate</text>
<text transform="translate(839.70,1405.35) rotate(-90) scale(0.960,1)" font-size="19.6" text-anchor="middle" fill="#000">True Positive Rate</text>
<rect x="1060.90" y="1482.70" width="150.20" height="69.00" rx="3.5" fill="#fff" fill-opacity="0.8" stroke="#d6d6d6" stroke-width="1.1"/>
<line x1="1066.20" y1="1493.90" x2="1098.20" y2="1493.90" stroke="#3b6ba8" stroke-width="1.7"/>
<text transform="translate(1109.80,1499.20)" font-size="15.3" text-anchor="start" fill="#000">H (area = 0.90)</text>
<line x1="1066.20" y1="1515.50" x2="1098.20" y2="1515.50" stroke="#e0832d" stroke-width="1.7"/>
<text transform="translate(1109.80,1520.80)" font-size="15.3" text-anchor="start" fill="#000">M (area = 0.91)</text>
<line x1="1066.20" y1="1537.10" x2="1098.20" y2="1537.10" stroke="#4b9a36" stroke-width="1.7"/>
<text transform="translate(1109.80,1542.40)" font-size="15.3" text-anchor="start" fill="#000">L (area = 0.99)</text>
<text transform="translate(9.70,1679.70)" font-size="26.5" text-anchor="start" fill="#000" font-weight="bold">E</text>
<rect x="53.90" y="1660.40" width="113.50" height="104.03" fill="#45763b"/>
<rect x="167.00" y="1660.40" width="113.50" height="104.03" fill="#eef7e7"/>
<rect x="280.10" y="1660.40" width="113.10" height="104.03" fill="#f7fbf3"/>
<rect x="53.90" y="1764.03" width="113.50" height="104.03" fill="#f3f9ed"/>
<rect x="167.00" y="1764.03" width="113.50" height="104.03" fill="#284725"/>
<rect x="280.10" y="1764.03" width="113.10" height="104.03" fill="#f5faf1"/>
<rect x="53.90" y="1867.67" width="113.50" height="103.63" fill="#f7fbf3"/>
<rect x="167.00" y="1867.67" width="113.50" height="103.63" fill="#f2f9ec"/>
<rect x="280.10" y="1867.67" width="113.10" height="103.63" fill="#3d6a34"/>
<text transform="translate(110.45,1716.82) scale(0.950,1)" font-size="20.3" text-anchor="middle" fill="#ffffff">239</text>
<text transform="translate(223.55,1716.82) scale(0.950,1)" font-size="20.3" text-anchor="middle" fill="#262626">22</text>
<text transform="translate(336.65,1716.82) scale(0.950,1)" font-size="20.3" text-anchor="middle" fill="#262626">0</text>
<text transform="translate(110.45,1820.45) scale(0.950,1)" font-size="20.3" text-anchor="middle" fill="#262626">10</text>
<text transform="translate(223.55,1820.45) scale(0.950,1)" font-size="20.3" text-anchor="middle" fill="#ffffff">284</text>
<text transform="translate(336.65,1820.45) scale(0.950,1)" font-size="20.3" text-anchor="middle" fill="#262626">4</text>
<text transform="translate(110.45,1924.08) scale(0.950,1)" font-size="20.3" text-anchor="middle" fill="#262626">0</text>
<text transform="translate(223.55,1924.08) scale(0.950,1)" font-size="20.3" text-anchor="middle" fill="#262626">13</text>
<text transform="translate(336.65,1924.08) scale(0.950,1)" font-size="20.3" text-anchor="middle" fill="#ffffff">250</text>
<line x1="49.40" y1="1712.22" x2="53.90" y2="1712.22" stroke="#262626" stroke-width="1.2"/>
<text transform="translate(42.10,1712.22) rotate(-90) scale(0.950,1)" font-size="19.8" text-anchor="middle" fill="#000">H</text>
<line x1="110.45" y1="1971.30" x2="110.45" y2="1975.80" stroke="#262626" stroke-width="1.2"/>
<text transform="translate(110.45,1993.30) scale(0.950,1)" font-size="19.8" text-anchor="middle" fill="#000">H</text>
<line x1="49.40" y1="1815.85" x2="53.90" y2="1815.85" stroke="#262626" stroke-width="1.2"/>
<text transform="translate(42.10,1815.85) rotate(-90) scale(0.950,1)" font-size="19.8" text-anchor="middle" fill="#000">M</text>
<line x1="223.55" y1="1971.30" x2="223.55" y2="1975.80" stroke="#262626" stroke-width="1.2"/>
<text transform="translate(223.55,1993.30) scale(0.950,1)" font-size="19.8" text-anchor="middle" fill="#000">M</text>
<line x1="49.40" y1="1919.48" x2="53.90" y2="1919.48" stroke="#262626" stroke-width="1.2"/>
<text transform="translate(42.10,1919.48) rotate(-90) scale(0.950,1)" font-size="19.8" text-anchor="middle" fill="#000">L</text>
<line x1="336.65" y1="1971.30" x2="336.65" y2="1975.80" stroke="#262626" stroke-width="1.2"/>
<text transform="translate(336.65,1993.30) scale(0.950,1)" font-size="19.8" text-anchor="middle" fill="#000">L</text>
<text transform="translate(223.55,2014.70) scale(0.960,1)" font-size="19.6" text-anchor="middle" fill="#000">Predicted</text>
<text transform="translate(20.40,1815.85) rotate(-90) scale(0.960,1)" font-size="19.6" text-anchor="middle" fill="#000">True</text>
<text transform="translate(223.55,1653.50)" font-size="22.6" text-anchor="middle" fill="#000">Confusion Matrix (Training Set)</text>
<rect x="466.70" y="1660.40" width="113.50" height="104.03" fill="#32572d"/>
<rect x="579.80" y="1660.40" width="113.50" height="104.03" fill="#d6ebc8"/>
<rect x="692.90" y="1660.40" width="113.10" height="104.03" fill="#f4faee"/>
<rect x="466.70" y="1764.03" width="113.50" height="104.03" fill="#f1f8ea"/>
<rect x="579.80" y="1764.03" width="113.50" height="104.03" fill="#284725"/>
<rect x="692.90" y="1764.03" width="113.10" height="104.03" fill="#f5faf1"/>
<rect x="466.70" y="1867.67" width="113.50" height="103.63" fill="#f7fbf3"/>
<rect x="579.80" y="1867.67" width="113.50" height="103.63" fill="#eff7e7"/>
<rect x="692.90" y="1867.67" width="113.10" height="103.63" fill="#477a3e"/>
<text transform="translate(523.25,1716.82) scale(0.950,1)" font-size="20.3" text-anchor="middle" fill="#ffffff">64</text>
<text transform="translate(636.35,1716.82) scale(0.950,1)" font-size="20.3" text-anchor="middle" fill="#262626">15</text>
<text transform="translate(749.45,1716.82) scale(0.950,1)" font-size="20.3" text-anchor="middle" fill="#262626">2</text>
<text transform="translate(523.25,1820.45) scale(0.950,1)" font-size="20.3" text-anchor="middle" fill="#262626">4</text>
<text transform="translate(636.35,1820.45) scale(0.950,1)" font-size="20.3" text-anchor="middle" fill="#ffffff">68</text>
<text transform="translate(749.45,1820.45) scale(0.950,1)" font-size="20.3" text-anchor="middle" fill="#262626">1</text>
<text transform="translate(523.25,1924.08) scale(0.950,1)" font-size="20.3" text-anchor="middle" fill="#262626">0</text>
<text transform="translate(636.35,1924.08) scale(0.950,1)" font-size="20.3" text-anchor="middle" fill="#262626">5</text>
<text transform="translate(749.45,1924.08) scale(0.950,1)" font-size="20.3" text-anchor="middle" fill="#ffffff">56</text>
<line x1="462.20" y1="1712.22" x2="466.70" y2="1712.22" stroke="#262626" stroke-width="1.2"/>
<text transform="translate(454.90,1712.22) rotate(-90) scale(0.950,1)" font-size="19.8" text-anchor="middle" fill="#000">H</text>
<line x1="523.25" y1="1971.30" x2="523.25" y2="1975.80" stroke="#262626" stroke-width="1.2"/>
<text transform="translate(523.25,1993.30) scale(0.950,1)" font-size="19.8" text-anchor="middle" fill="#000">H</text>
<line x1="462.20" y1="1815.85" x2="466.70" y2="1815.85" stroke="#262626" stroke-width="1.2"/>
<text transform="translate(454.90,1815.85) rotate(-90) scale(0.950,1)" font-size="19.8" text-anchor="middle" fill="#000">M</text>
<line x1="636.35" y1="1971.30" x2="636.35" y2="1975.80" stroke="#262626" stroke-width="1.2"/>
<text transform="translate(636.35,1993.30) scale(0.950,1)" font-size="19.8" text-anchor="middle" fill="#000">M</text>
<line x1="462.20" y1="1919.48" x2="466.70" y2="1919.48" stroke="#262626" stroke-width="1.2"/>
<text transform="translate(454.90,1919.48) rotate(-90) scale(0.950,1)" font-size="19.8" text-anchor="middle" fill="#000">L</text>
<line x1="749.45" y1="1971.30" x2="749.45" y2="1975.80" stroke="#262626" stroke-width="1.2"/>
<text transform="translate(749.45,1993.30) scale(0.950,1)" font-size="19.8" text-anchor="middle" fill="#000">L</text>
<text transform="translate(636.35,2014.70) scale(0.960,1)" font-size="19.6" text-anchor="middle" fill="#000">Predicted</text>
<text transform="translate(433.20,1815.85) rotate(-90) scale(0.960,1)" font-size="19.6" text-anchor="middle" fill="#000">True</text>
<text transform="translate(636.35,1653.50)" font-size="22.6" text-anchor="middle" fill="#000">Confusion Matrix (Test Set)</text>
<path d="M879.80 1660.60V1971.50 M879.80 1971.50H1218.90 M947.62 1660.60V1971.50 M879.80 1912.28H1218.90 M1015.44 1660.60V1971.50 M879.80 1853.06H1218.90 M1083.26 1660.60V1971.50 M879.80 1793.84H1218.90 M1151.08 1660.60V1971.50 M879.80 1734.62H1218.90 M1218.90 1660.60V1971.50 M879.80 1675.40H1218.90" stroke="#c4c4c4" stroke-width="1.35" fill="none"/>
<clipPath id="clipE"><rect x="879.80" y="1660.60" width="339.10" height="310.90"/></clipPath>
<g clip-path="url(#clipE)">
<path d="M879.80 1971.50 L880.14 1971.50 L880.14 1783.77 L883.87 1783.77 L883.87 1758.90 L886.58 1758.90 L886.58 1755.35 L888.96 1755.35 L888.96 1734.03 L891.67 1734.03 L891.67 1729.59 L901.84 1729.59 L901.84 1726.63 L907.95 1726.63 L907.95 1722.18 L909.30 1722.18 L909.30 1708.27 L914.39 1708.27 L914.39 1703.83 L919.81 1703.83 L919.81 1689.61 L932.36 1689.61 L932.36 1684.28 L937.45 1684.28 L937.45 1678.95 L1062.57 1678.95 L1062.57 1675.40 L1218.90 1675.40" stroke="#3b6ba8" stroke-width="1.7" fill="none" stroke-linejoin="miter"/>
<path d="M879.80 1971.50 L880.14 1971.50 L880.14 1808.64 L881.83 1808.64 L881.83 1755.94 L886.58 1755.94 L886.58 1739.95 L898.45 1739.95 L898.45 1735.51 L907.95 1735.51 L907.95 1728.11 L915.41 1728.11 L915.41 1719.82 L917.10 1719.82 L917.10 1701.75 L923.88 1701.75 L923.88 1687.24 L930.66 1687.24 L930.66 1683.39 L940.16 1683.39 L940.16 1678.95 L962.88 1678.95 L962.88 1675.40 L1218.90 1675.40" stroke="#e0832d" stroke-width="1.7" fill="none" stroke-linejoin="miter"/>
<path d="M879.80 1971.50 L880.14 1971.50 L880.14 1704.12 L883.87 1704.12 L883.87 1690.20 L885.23 1690.20 L885.23 1684.88 L888.28 1684.88 L888.28 1679.84 L936.43 1679.84 L936.43 1675.40 L1218.90 1675.40" stroke="#4b9a36" stroke-width="1.7" fill="none" stroke-linejoin="miter"/>
<path d="M879.80 1971.50L1218.90 1675.40" stroke="#000" stroke-width="1.7" stroke-dasharray="6.28,2.72" fill="none"/>
</g>
<rect x="879.80" y="1660.60" width="339.10" height="310.90" fill="none" stroke="#262626" stroke-width="1.2"/>
<line x1="879.80" y1="1971.50" x2="879.80" y2="1976.00" stroke="#262626" stroke-width="1.2"/>
<text transform="translate(879.80,1992.90) scale(0.950,1)" font-size="19.8" text-anchor="middle" fill="#000">0.0</text>
<line x1="875.30" y1="1971.50" x2="879.80" y2="1971.50" stroke="#262626" stroke-width="1.2"/>
<text transform="translate(871.20,1978.30) scale(0.950,1)" font-size="19.8" text-anchor="end" fill="#000">0.0</text>
<line x1="947.62" y1="1971.50" x2="947.62" y2="1976.00" stroke="#262626" stroke-width="1.2"/>
<text transform="translate(947.62,1992.90) scale(0.950,1)" font-size="19.8" text-anchor="middle" fill="#000">0.2</text>
<line x1="875.30" y1="1912.28" x2="879.80" y2="1912.28" stroke="#262626" stroke-width="1.2"/>
<text transform="translate(871.20,1919.08) scale(0.950,1)" font-size="19.8" text-anchor="end" fill="#000">0.2</text>
<line x1="1015.44" y1="1971.50" x2="1015.44" y2="1976.00" stroke="#262626" stroke-width="1.2"/>
<text transform="translate(1015.44,1992.90) scale(0.950,1)" font-size="19.8" text-anchor="middle" fill="#000">0.4</text>
<line x1="875.30" y1="1853.06" x2="879.80" y2="1853.06" stroke="#262626" stroke-width="1.2"/>
<text transform="translate(871.20,1859.86) scale(0.950,1)" font-size="19.8" text-anchor="end" fill="#000">0.4</text>
<line x1="1083.26" y1="1971.50" x2="1083.26" y2="1976.00" stroke="#262626" stroke-width="1.2"/>
<text transform="translate(1083.26,1992.90) scale(0.950,1)" font-size="19.8" text-anchor="middle" fill="#000">0.6</text>
<line x1="875.30" y1="1793.84" x2="879.80" y2="1793.84" stroke="#262626" stroke-width="1.2"/>
<text transform="translate(871.20,1800.64) scale(0.950,1)" font-size="19.8" text-anchor="end" fill="#000">0.6</text>
<line x1="1151.08" y1="1971.50" x2="1151.08" y2="1976.00" stroke="#262626" stroke-width="1.2"/>
<text transform="translate(1151.08,1992.90) scale(0.950,1)" font-size="19.8" text-anchor="middle" fill="#000">0.8</text>
<line x1="875.30" y1="1734.62" x2="879.80" y2="1734.62" stroke="#262626" stroke-width="1.2"/>
<text transform="translate(871.20,1741.42) scale(0.950,1)" font-size="19.8" text-anchor="end" fill="#000">0.8</text>
<line x1="1218.90" y1="1971.50" x2="1218.90" y2="1976.00" stroke="#262626" stroke-width="1.2"/>
<text transform="translate(1218.90,1992.90) scale(0.950,1)" font-size="19.8" text-anchor="middle" fill="#000">1.0</text>
<line x1="875.30" y1="1675.40" x2="879.80" y2="1675.40" stroke="#262626" stroke-width="1.2"/>
<text transform="translate(871.20,1682.20) scale(0.950,1)" font-size="19.8" text-anchor="end" fill="#000">1.0</text>
<text transform="translate(1049.35,1653.30)" font-size="22.6" text-anchor="middle" fill="#000">ROC Curve</text>
<text transform="translate(1049.35,2014.60) scale(0.960,1)" font-size="19.6" text-anchor="middle" fill="#000">False Positive Rate</text>
<text transform="translate(839.70,1817.05) rotate(-90) scale(0.960,1)" font-size="19.6" text-anchor="middle" fill="#000">True Positive Rate</text>
<rect x="1060.90" y="1894.40" width="150.20" height="69.00" rx="3.5" fill="#fff" fill-opacity="0.8" stroke="#d6d6d6" stroke-width="1.1"/>
<line x1="1066.20" y1="1905.60" x2="1098.20" y2="1905.60" stroke="#3b6ba8" stroke-width="1.7"/>
<text transform="translate(1109.80,1910.90)" font-size="15.3" text-anchor="start" fill="#000">H (area = 0.97)</text>
<line x1="1066.20" y1="1927.20" x2="1098.20" y2="1927.20" stroke="#e0832d" stroke-width="1.7"/>
<text transform="translate(1109.80,1932.50)" font-size="15.3" text-anchor="start" fill="#000">M (area = 0.97)</text>
<line x1="1066.20" y1="1948.80" x2="1098.20" y2="1948.80" stroke="#4b9a36" stroke-width="1.7"/>
<text transform="translate(1109.80,1954.10)" font-size="15.3" text-anchor="start" fill="#000">L (area = 1.00)</text>
<text transform="translate(4.00,2085.30)" font-size="26.5" text-anchor="start" fill="#000" font-weight="bold">F</text>
<rect x="53.90" y="2068.00" width="113.50" height="104.03" fill="#34592e"/>
<rect x="167.00" y="2068.00" width="113.50" height="104.03" fill="#f4faef"/>
<rect x="280.10" y="2068.00" width="113.10" height="104.03" fill="#f7fbf3"/>
<rect x="53.90" y="2171.63" width="113.50" height="104.03" fill="#f3f9ee"/>
<rect x="167.00" y="2171.63" width="113.50" height="104.03" fill="#284725"/>
<rect x="280.10" y="2171.63" width="113.10" height="104.03" fill="#f1f8ea"/>
<rect x="53.90" y="2275.27" width="113.50" height="103.63" fill="#f7fbf2"/>
<rect x="167.00" y="2275.27" width="113.50" height="103.63" fill="#f5faf0"/>
<rect x="280.10" y="2275.27" width="113.10" height="103.63" fill="#3d6b35"/>
<text transform="translate(110.45,2124.42) scale(0.950,1)" font-size="20.3" text-anchor="middle" fill="#ffffff">260</text>
<text transform="translate(223.55,2124.42) scale(0.950,1)" font-size="20.3" text-anchor="middle" fill="#262626">7</text>
<text transform="translate(336.65,2124.42) scale(0.950,1)" font-size="20.3" text-anchor="middle" fill="#262626">0</text>
<text transform="translate(110.45,2228.05) scale(0.950,1)" font-size="20.3" text-anchor="middle" fill="#262626">9</text>
<text transform="translate(223.55,2228.05) scale(0.950,1)" font-size="20.3" text-anchor="middle" fill="#ffffff">279</text>
<text transform="translate(336.65,2228.05) scale(0.950,1)" font-size="20.3" text-anchor="middle" fill="#262626">16</text>
<text transform="translate(110.45,2331.68) scale(0.950,1)" font-size="20.3" text-anchor="middle" fill="#262626">1</text>
<text transform="translate(223.55,2331.68) scale(0.950,1)" font-size="20.3" text-anchor="middle" fill="#262626">5</text>
<text transform="translate(336.65,2331.68) scale(0.950,1)" font-size="20.3" text-anchor="middle" fill="#ffffff">245</text>
<line x1="49.40" y1="2119.82" x2="53.90" y2="2119.82" stroke="#262626" stroke-width="1.2"/>
<text transform="translate(42.10,2119.82) rotate(-90) scale(0.950,1)" font-size="19.8" text-anchor="middle" fill="#000">H</text>
<line x1="110.45" y1="2378.90" x2="110.45" y2="2383.40" stroke="#262626" stroke-width="1.2"/>
<text transform="translate(110.45,2400.90) scale(0.950,1)" font-size="19.8" text-anchor="middle" fill="#000">H</text>
<line x1="49.40" y1="2223.45" x2="53.90" y2="2223.45" stroke="#262626" stroke-width="1.2"/>
<text transform="translate(42.10,2223.45) rotate(-90) scale(0.950,1)" font-size="19.8" text-anchor="middle" fill="#000">M</text>
<line x1="223.55" y1="2378.90" x2="223.55" y2="2383.40" stroke="#262626" stroke-width="1.2"/>
<text transform="translate(223.55,2400.90) scale(0.950,1)" font-size="19.8" text-anchor="middle" fill="#000">M</text>
<line x1="49.40" y1="2327.08" x2="53.90" y2="2327.08" stroke="#262626" stroke-width="1.2"/>
<text transform="translate(42.10,2327.08) rotate(-90) scale(0.950,1)" font-size="19.8" text-anchor="middle" fill="#000">L</text>
<line x1="336.65" y1="2378.90" x2="336.65" y2="2383.40" stroke="#262626" stroke-width="1.2"/>
<text transform="translate(336.65,2400.90) scale(0.950,1)" font-size="19.8" text-anchor="middle" fill="#000">L</text>
<text transform="translate(223.55,2422.30) scale(0.960,1)" font-size="19.6" text-anchor="middle" fill="#000">Predicted</text>
<text transform="translate(20.40,2223.45) rotate(-90) scale(0.960,1)" font-size="19.6" text-anchor="middle" fill="#000">True</text>
<text transform="translate(223.55,2061.10)" font-size="22.6" text-anchor="middle" fill="#000">Confusion Matrix (Training Set)</text>
<rect x="466.70" y="2068.00" width="113.50" height="104.03" fill="#3f6d36"/>
<rect x="579.80" y="2068.00" width="113.50" height="104.03" fill="#e2f1d9"/>
<rect x="692.90" y="2068.00" width="113.10" height="104.03" fill="#f7fbf3"/>
<rect x="466.70" y="2171.63" width="113.50" height="104.03" fill="#f2f9ec"/>
<rect x="579.80" y="2171.63" width="113.50" height="104.03" fill="#487c40"/>
<rect x="692.90" y="2171.63" width="113.10" height="104.03" fill="#f1f8ea"/>
<rect x="466.70" y="2275.27" width="113.50" height="103.63" fill="#f7fbf3"/>
<rect x="579.80" y="2275.27" width="113.50" height="103.63" fill="#f7fbf3"/>
<rect x="692.90" y="2275.27" width="113.10" height="103.63" fill="#284725"/>
<text transform="translate(523.25,2124.42) scale(0.950,1)" font-size="20.3" text-anchor="middle" fill="#ffffff">62</text>
<text transform="translate(636.35,2124.42) scale(0.950,1)" font-size="20.3" text-anchor="middle" fill="#262626">12</text>
<text transform="translate(749.45,2124.42) scale(0.950,1)" font-size="20.3" text-anchor="middle" fill="#262626">1</text>
<text transform="translate(523.25,2228.05) scale(0.950,1)" font-size="20.3" text-anchor="middle" fill="#262626">4</text>
<text transform="translate(636.35,2228.05) scale(0.950,1)" font-size="20.3" text-anchor="middle" fill="#ffffff">58</text>
<text transform="translate(749.45,2228.05) scale(0.950,1)" font-size="20.3" text-anchor="middle" fill="#262626">5</text>
<text transform="translate(523.25,2331.68) scale(0.950,1)" font-size="20.3" text-anchor="middle" fill="#262626">1</text>
<text transform="translate(636.35,2331.68) scale(0.950,1)" font-size="20.3" text-anchor="middle" fill="#262626">1</text>
<text transform="translate(749.45,2331.68) scale(0.950,1)" font-size="20.3" text-anchor="middle" fill="#ffffff">71</text>
<line x1="462.20" y1="2119.82" x2="466.70" y2="2119.82" stroke="#262626" stroke-width="1.2"/>
<text transform="translate(454.90,2119.82) rotate(-90) scale(0.950,1)" font-size="19.8" text-anchor="middle" fill="#000">H</text>
<line x1="523.25" y1="2378.90" x2="523.25" y2="2383.40" stroke="#262626" stroke-width="1.2"/>
<text transform="translate(523.25,2400.90) scale(0.950,1)" font-size="19.8" text-anchor="middle" fill="#000">H</text>
<line x1="462.20" y1="2223.45" x2="466.70" y2="2223.45" stroke="#262626" stroke-width="1.2"/>
<text transform="translate(454.90,2223.45) rotate(-90) scale(0.950,1)" font-size="19.8" text-anchor="middle" fill="#000">M</text>
<line x1="636.35" y1="2378.90" x2="636.35" y2="2383.40" stroke="#262626" stroke-width="1.2"/>
<text transform="translate(636.35,2400.90) scale(0.950,1)" font-size="19.8" text-anchor="middle" fill="#000">M</text>
<line x1="462.20" y1="2327.08" x2="466.70" y2="2327.08" stroke="#262626" stroke-width="1.2"/>
<text transform="translate(454.90,2327.08) rotate(-90) scale(0.950,1)" font-size="19.8" text-anchor="middle" fill="#000">L</text>
<line x1="749.45" y1="2378.90" x2="749.45" y2="2383.40" stroke="#262626" stroke-width="1.2"/>
<text transform="translate(749.45,2400.90) scale(0.950,1)" font-size="19.8" text-anchor="middle" fill="#000">L</text>
<text transform="translate(636.35,2422.30) scale(0.960,1)" font-size="19.6" text-anchor="middle" fill="#000">Predicted</text>
<text transform="translate(433.20,2223.45) rotate(-90) scale(0.960,1)" font-size="19.6" text-anchor="middle" fill="#000">True</text>
<text transform="translate(636.35,2061.10)" font-size="22.6" text-anchor="middle" fill="#000">Confusion Matrix (Test Set)</text>
<path d="M879.80 2068.19V2379.10 M879.80 2379.10H1218.90 M947.62 2068.19V2379.10 M879.80 2319.88H1218.90 M1015.44 2068.19V2379.10 M879.80 2260.66H1218.90 M1083.26 2068.19V2379.10 M879.80 2201.44H1218.90 M1151.08 2068.19V2379.10 M879.80 2142.22H1218.90 M1218.90 2068.19V2379.10 M879.80 2083.00H1218.90" stroke="#c4c4c4" stroke-width="1.35" fill="none"/>
<clipPath id="clipF"><rect x="879.80" y="2068.19" width="339.10" height="310.91"/></clipPath>
<g clip-path="url(#clipF)">
<path d="M879.80 2379.10 L880.82 2379.10 L880.82 2288.20 L881.83 2288.20 L881.83 2150.51 L886.58 2150.51 L886.58 2137.78 L888.96 2137.78 L888.96 2129.78 L913.37 2129.78 L913.37 2127.12 L925.58 2127.12 L925.58 2122.68 L1034.09 2122.68 L1034.09 2118.83 L1040.87 2118.83 L1040.87 2114.39 L1054.10 2114.39 L1054.10 2110.54 L1102.25 2110.54 L1102.25 2106.10 L1186.69 2106.10 L1186.69 2101.95 L1190.08 2101.95 L1190.08 2098.10 L1203.64 2098.10 L1203.64 2094.55 L1210.42 2094.55 L1210.42 2090.40 L1215.51 2090.40 L1215.51 2085.96 L1218.90 2085.96 L1218.90 2083.00" stroke="#3b6ba8" stroke-width="1.7" fill="none" stroke-linejoin="miter"/>
<path d="M879.80 2379.10 L880.82 2369.92 L885.90 2369.92 L885.90 2339.42 L888.96 2339.42 L888.96 2276.95 L893.36 2276.95 L893.36 2263.92 L896.08 2263.92 L896.08 2237.56 L898.45 2237.56 L898.45 2219.21 L900.15 2219.21 L900.15 2184.86 L902.18 2184.86 L902.18 2145.18 L905.23 2145.18 L905.23 2128.30 L906.93 2128.30 L906.93 2122.68 L916.42 2122.68 L916.42 2113.79 L955.08 2113.79 L955.08 2109.35 L1003.57 2109.35 L1003.57 2100.47 L1044.60 2100.47 L1044.60 2096.32 L1141.25 2096.32 L1141.25 2091.59 L1170.41 2091.59 L1170.41 2087.15 L1207.03 2087.15 L1207.03 2083.00 L1218.90 2083.00" stroke="#e0832d" stroke-width="1.7" fill="none" stroke-linejoin="miter"/>
<path d="M879.80 2379.10 L880.82 2379.10 L880.82 2309.52 L884.21 2309.52 L884.21 2244.97 L886.58 2244.97 L886.58 2236.97 L888.96 2236.97 L888.96 2107.87 L891.33 2107.87 L891.33 2099.58 L893.36 2099.58 L893.36 2094.55 L895.74 2094.55 L895.74 2090.40 L897.77 2090.40 L897.77 2086.85 L900.15 2086.85 L900.15 2083.00 L1218.90 2083.00" stroke="#4b9a36" stroke-width="1.7" fill="none" stroke-linejoin="miter"/>
<path d="M879.80 2379.10L1218.90 2083.00" stroke="#000" stroke-width="1.7" stroke-dasharray="6.28,2.72" fill="none"/>
</g>
<rect x="879.80" y="2068.19" width="339.10" height="310.91" fill="none" stroke="#262626" stroke-width="1.2"/>
<line x1="879.80" y1="2379.10" x2="879.80" y2="2383.60" stroke="#262626" stroke-width="1.2"/>
<text transform="translate(879.80,2400.50) scale(0.950,1)" font-size="19.8" text-anchor="middle" fill="#000">0.0</text>
<line x1="875.30" y1="2379.10" x2="879.80" y2="2379.10" stroke="#262626" stroke-width="1.2"/>
<text transform="translate(871.20,2385.90) scale(0.950,1)" font-size="19.8" text-anchor="end" fill="#000">0.0</text>
<line x1="947.62" y1="2379.10" x2="947.62" y2="2383.60" stroke="#262626" stroke-width="1.2"/>
<text transform="translate(947.62,2400.50) scale(0.950,1)" font-size="19.8" text-anchor="middle" fill="#000">0.2</text>
<line x1="875.30" y1="2319.88" x2="879.80" y2="2319.88" stroke="#262626" stroke-width="1.2"/>
<text transform="translate(871.20,2326.68) scale(0.950,1)" font-size="19.8" text-anchor="end" fill="#000">0.2</text>
<line x1="1015.44" y1="2379.10" x2="1015.44" y2="2383.60" stroke="#262626" stroke-width="1.2"/>
<text transform="translate(1015.44,2400.50) scale(0.950,1)" font-size="19.8" text-anchor="middle" fill="#000">0.4</text>
<line x1="875.30" y1="2260.66" x2="879.80" y2="2260.66" stroke="#262626" stroke-width="1.2"/>
<text transform="translate(871.20,2267.46) scale(0.950,1)" font-size="19.8" text-anchor="end" fill="#000">0.4</text>
<line x1="1083.26" y1="2379.10" x2="1083.26" y2="2383.60" stroke="#262626" stroke-width="1.2"/>
<text transform="translate(1083.26,2400.50) scale(0.950,1)" font-size="19.8" text-anchor="middle" fill="#000">0.6</text>
<line x1="875.30" y1="2201.44" x2="879.80" y2="2201.44" stroke="#262626" stroke-width="1.2"/>
<text transform="translate(871.20,2208.24) scale(0.950,1)" font-size="19.8" text-anchor="end" fill="#000">0.6</text>
<line x1="1151.08" y1="2379.10" x2="1151.08" y2="2383.60" stroke="#262626" stroke-width="1.2"/>
<text transform="translate(1151.08,2400.50) scale(0.950,1)" font-size="19.8" text-anchor="middle" fill="#000">0.8</text>
<line x1="875.30" y1="2142.22" x2="879.80" y2="2142.22" stroke="#262626" stroke-width="1.2"/>
<text transform="translate(871.20,2149.02) scale(0.950,1)" font-size="19.8" text-anchor="end" fill="#000">0.8</text>
<line x1="1218.90" y1="2379.10" x2="1218.90" y2="2383.60" stroke="#262626" stroke-width="1.2"/>
<text transform="translate(1218.90,2400.50) scale(0.950,1)" font-size="19.8" text-anchor="middle" fill="#000">1.0</text>
<line x1="875.30" y1="2083.00" x2="879.80" y2="2083.00" stroke="#262626" stroke-width="1.2"/>
<text transform="translate(871.20,2089.80) scale(0.950,1)" font-size="19.8" text-anchor="end" fill="#000">1.0</text>
<text transform="translate(1049.35,2060.90)" font-size="22.6" text-anchor="middle" fill="#000">ROC Curve</text>
<text transform="translate(1049.35,2422.20) scale(0.960,1)" font-size="19.6" text-anchor="middle" fill="#000">False Positive Rate</text>
<text transform="translate(839.70,2224.65) rotate(-90) scale(0.960,1)" font-size="19.6" text-anchor="middle" fill="#000">True Positive Rate</text>
<rect x="1060.90" y="2302.00" width="150.20" height="69.00" rx="3.5" fill="#fff" fill-opacity="0.8" stroke="#d6d6d6" stroke-width="1.1"/>
<line x1="1066.20" y1="2313.20" x2="1098.20" y2="2313.20" stroke="#3b6ba8" stroke-width="1.7"/>
<text transform="translate(1109.80,2318.50)" font-size="15.3" text-anchor="start" fill="#000">H (area = 0.89)</text>
<line x1="1066.20" y1="2334.80" x2="1098.20" y2="2334.80" stroke="#e0832d" stroke-width="1.7"/>
<text transform="translate(1109.80,2340.10)" font-size="15.3" text-anchor="start" fill="#000">M (area = 0.90)</text>
<line x1="1066.20" y1="2356.40" x2="1098.20" y2="2356.40" stroke="#4b9a36" stroke-width="1.7"/>
<text transform="translate(1109.80,2361.70)" font-size="15.3" text-anchor="start" fill="#000">L (area = 0.98)</text>
<rect x="0" y="2393.3" width="1231" height="3" fill="#fff"/>
</svg>
</body></html>
